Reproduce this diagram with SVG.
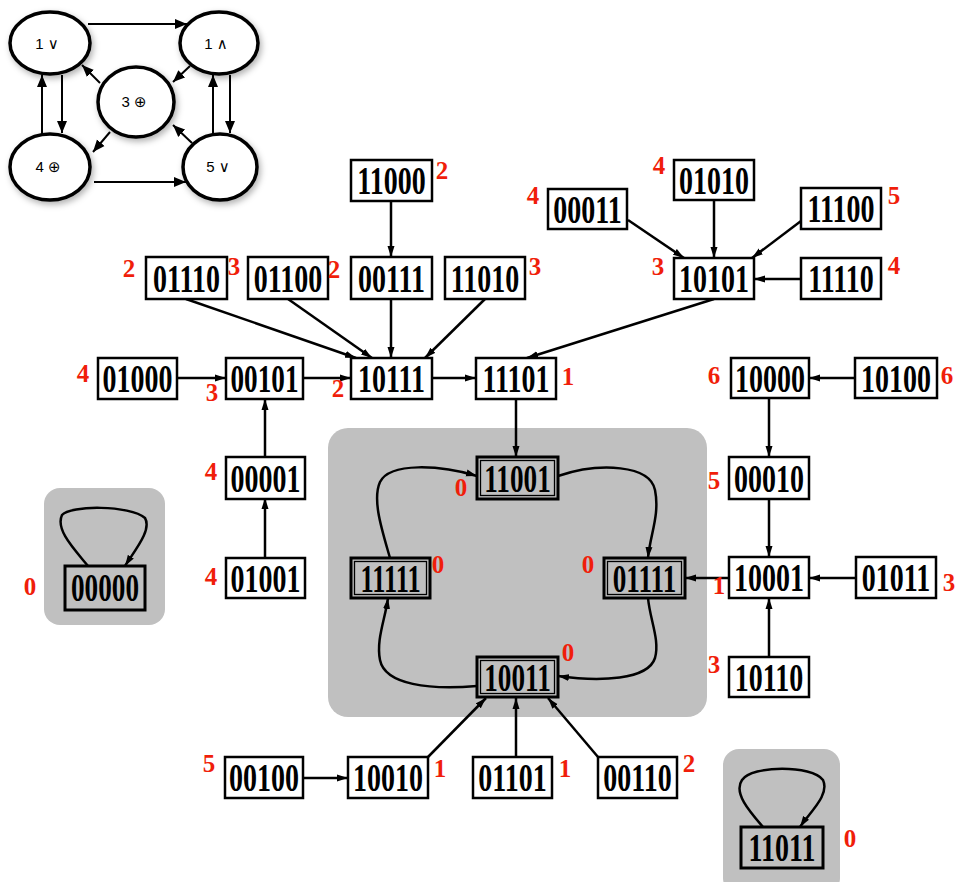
<svg xmlns="http://www.w3.org/2000/svg" width="956" height="882" viewBox="0 0 956 882">
<style>
.bx{fill:#fff;stroke:#000;stroke-width:2.5}
.gb{fill:#c0c0c0;stroke:#000;stroke-width:3}
.gi{fill:none;stroke:#000;stroke-width:1.3}
.bt{font-family:"Liberation Serif","Times New Roman",serif;font-weight:bold;font-size:40px;fill:#000;text-anchor:middle}
.rl{font-family:"Liberation Serif","Times New Roman",serif;font-weight:bold;font-size:25px;fill:#f01e0a;text-anchor:middle}
.el{fill:#fff;stroke:#000;stroke-width:3.5;filter:url(#sh)}
.et{font-family:"Liberation Sans","DejaVu Sans",sans-serif;font-size:15px;fill:#000;text-anchor:middle}
.e{fill:none;stroke:#000;stroke-width:2.5;marker-end:url(#ah)}
.te{fill:none;stroke:#000;stroke-width:2;marker-end:url(#ta)}
.rg{fill:#c0c0c0}
</style>
<defs>
<marker id="ah" markerUnits="userSpaceOnUse" markerWidth="12" markerHeight="8" refX="11" refY="4" orient="auto"><path d="M0,0.5 L11,4 L0,7.5 z" fill="#000"/></marker>
<marker id="ta" markerUnits="userSpaceOnUse" markerWidth="13" markerHeight="11" refX="12" refY="5.5" orient="auto"><path d="M0,0.5 L12,5.5 L0,10.5 z" fill="#000"/></marker>
<filter id="sh" x="-20%" y="-20%" width="150%" height="150%"><feDropShadow dx="2" dy="3" stdDeviation="3" flood-color="#000" flood-opacity="0.3"/></filter>
</defs>
<rect width="956" height="882" fill="#fff"/>

<!-- gray regions -->
<rect class="rg" x="328" y="428" width="379" height="289" rx="20"/>
<rect class="rg" x="44" y="488" width="121" height="137" rx="16"/>
<rect class="rg" x="723" y="749" width="117" height="145" rx="16"/>

<!-- top-left graph -->
<g id="tl-connectors">
<path class="te" d="M88 24 L187 24"/>
<path class="te" d="M62 75 L62 133"/>
<path class="te" d="M42 135 L42 75"/>
<path class="te" d="M100 83 L82 65"/>
<path class="te" d="M190 66 L173 82"/>
<path class="te" d="M110 132 L93 152"/>
<path class="te" d="M192 143 L173 125"/>
<path class="te" d="M230 75 L230 133"/>
<path class="te" d="M213 135 L213 75"/>
<path class="te" d="M94 182 L186 182"/>
</g>
<g id="e1or"><ellipse class="el" cx="50" cy="43" rx="40" ry="31"/><text class="et" x="47" y="49">1 ∨</text></g>
<g id="e1and"><ellipse class="el" cx="219" cy="43" rx="39" ry="31"/><text class="et" x="216" y="49">1 ∧</text></g>
<g id="e3xor"><ellipse class="el" cx="136" cy="102" rx="38" ry="35"/><text class="et" x="134" y="107">3 ⊕</text></g>
<g id="e4xor"><ellipse class="el" cx="50" cy="167" rx="40" ry="33"/><text class="et" x="48" y="172">4 ⊕</text></g>
<g id="e5or"><ellipse class="el" cx="220" cy="167" rx="37" ry="33"/><text class="et" x="218" y="172">5 ∨</text></g>

<!-- connectors -->
<g id="connectors">
<path class="e" d="M391 200 L391 257"/>
<path class="e" d="M186 299 L356 358"/>
<path class="e" d="M288 299 L372 358"/>
<path class="e" d="M391 299 L391 358"/>
<path class="e" d="M485 299 L425 358"/>
<path class="e" d="M178 378 L226 378"/>
<path class="e" d="M303 378 L351 378"/>
<path class="e" d="M431 378 L476 378"/>
<path class="e" d="M265 457 L265 399"/>
<path class="e" d="M265 558 L265 498"/>
<path class="e" d="M714 299 L527 358"/>
<path class="e" d="M628 220 L684 258"/>
<path class="e" d="M714 201 L714 258"/>
<path class="e" d="M801 221 L752 258"/>
<path class="e" d="M801 279 L754 279"/>
<path class="e" d="M516 399 L516 457"/>
<path class="e" d="M855 378 L809 378"/>
<path class="e" d="M769 398 L769 457"/>
<path class="e" d="M769 498 L769 557"/>
<path class="e" d="M856 578 L809 578"/>
<path class="e" d="M769 657 L769 598"/>
<path class="e" d="M729 578 L685 578"/>
<path class="e" d="M303 778 L348 778"/>
<path class="e" d="M428 757 L486 698"/>
<path class="e" d="M516 757 L516 698"/>
<path class="e" d="M598 757 L548 698"/>
<path class="e" d="M390 558 C382 530 372 500 380 482 C390 462 440 465 477 476"/>
<path class="e" d="M558 476 C600 462 650 465 655 490 C660 515 650 535 648 558"/>
<path class="e" d="M648 598 C650 620 660 640 655 658 C648 680 600 682 558 676"/>
<path class="e" d="M477 686 C430 690 385 685 380 660 C376 640 385 620 388 598"/>
<path class="e" d="M88 566 C75 550 55 530 62 515 C70 505 130 505 145 518 C152 530 135 550 125 566"/>
<path class="e" d="M763 827 C750 812 733 793 742 780 C752 765 812 765 823 780 C830 795 810 812 800 827"/>
</g>

<!-- nodes -->
<g id="n11000"><rect class="bx" x="351" y="160" width="81" height="41"/><text class="bt" transform="translate(391.5,194) scale(0.7,1)">11000</text><text class="rl" x="442" y="179">2</text></g>
<g id="n01110"><rect class="bx" x="146" y="257" width="81" height="42"/><text class="bt" transform="translate(186.5,292) scale(0.7,1)">01110</text><text class="rl" x="129" y="277">2</text><text class="rl" x="234" y="275">3</text></g>
<g id="n01100"><rect class="bx" x="248" y="257" width="80" height="42"/><text class="bt" transform="translate(288,292) scale(0.7,1)">01100</text><text class="rl" x="334" y="278">2</text></g>
<g id="n00111"><rect class="bx" x="351" y="257" width="81" height="42"/><text class="bt" transform="translate(391.5,292) scale(0.7,1)">00111</text></g>
<g id="n11010"><rect class="bx" x="445" y="257" width="80" height="42"/><text class="bt" transform="translate(485,292) scale(0.7,1)">11010</text><text class="rl" x="535" y="275">3</text></g>
<g id="n01000"><rect class="bx" x="98" y="358" width="79" height="41"/><text class="bt" transform="translate(137.5,392) scale(0.7,1)">01000</text><text class="rl" x="83" y="382">4</text></g>
<g id="n00101"><rect class="bx" x="226" y="358" width="77" height="41"/><text class="bt" transform="translate(264.5,392) scale(0.68,1)">00101</text><text class="rl" x="212" y="401">3</text></g>
<g id="n10111"><rect class="bx" x="351" y="358" width="81" height="41"/><text class="bt" transform="translate(391.5,392) scale(0.7,1)">10111</text><text class="rl" x="338" y="397">2</text></g>
<g id="n11101"><rect class="bx" x="476" y="358" width="80" height="41"/><text class="bt" transform="translate(516,392) scale(0.7,1)">11101</text><text class="rl" x="568" y="385">1</text></g>
<g id="n00011"><rect class="bx" x="548" y="189" width="79" height="40"/><text class="bt" transform="translate(587.5,223) scale(0.7,1)">00011</text><text class="rl" x="533" y="204">4</text></g>
<g id="n01010"><rect class="bx" x="674" y="160" width="80" height="40"/><text class="bt" transform="translate(714,194) scale(0.7,1)">01010</text><text class="rl" x="659" y="174">4</text></g>
<g id="n11100"><rect class="bx" x="801" y="188" width="80" height="41"/><text class="bt" transform="translate(841,222) scale(0.7,1)">11100</text><text class="rl" x="894" y="204">5</text></g>
<g id="n10101"><rect class="bx" x="674" y="258" width="80" height="41"/><text class="bt" transform="translate(714,292) scale(0.7,1)">10101</text><text class="rl" x="658" y="275">3</text></g>
<g id="n11110"><rect class="bx" x="801" y="258" width="80" height="41"/><text class="bt" transform="translate(841,292) scale(0.7,1)">11110</text><text class="rl" x="894" y="274">4</text></g>
<g id="n10000"><rect class="bx" x="731" y="358" width="78" height="40"/><text class="bt" transform="translate(770,392) scale(0.7,1)">10000</text><text class="rl" x="714" y="384">6</text></g>
<g id="n10100"><rect class="bx" x="855" y="358" width="82" height="40"/><text class="bt" transform="translate(896,392) scale(0.7,1)">10100</text><text class="rl" x="947" y="384">6</text></g>
<g id="n11001"><rect class="gb" x="477" y="457" width="81" height="42"/><rect class="gi" x="480.5" y="460.5" width="74" height="35"/><text class="bt" transform="translate(517.5,492) scale(0.68,1)">11001</text><text class="rl" x="461" y="496">0</text></g>
<g id="n11111"><rect class="gb" x="351" y="558" width="79" height="40"/><rect class="gi" x="354.5" y="561.5" width="72" height="33"/><text class="bt" transform="translate(390.5,592) scale(0.66,1)">11111</text><text class="rl" x="438" y="573">0</text></g>
<g id="n01111"><rect class="gb" x="604" y="558" width="81" height="40"/><rect class="gi" x="607.5" y="561.5" width="74" height="33"/><text class="bt" transform="translate(644.5,592) scale(0.68,1)">01111</text><text class="rl" x="588" y="573">0</text></g>
<g id="n10011"><rect class="gb" x="477" y="657" width="81" height="40"/><rect class="gi" x="480.5" y="660.5" width="74" height="33"/><text class="bt" transform="translate(517.5,691) scale(0.68,1)">10011</text><text class="rl" x="568" y="661">0</text></g>
<g id="n00010"><rect class="bx" x="729" y="457" width="80" height="42"/><text class="bt" transform="translate(769,492) scale(0.7,1)">00010</text><text class="rl" x="714" y="489">5</text></g>
<g id="n10001"><rect class="bx" x="729" y="557" width="80" height="41"/><text class="bt" transform="translate(769,591) scale(0.7,1)">10001</text><text class="rl" x="719" y="594">1</text></g>
<g id="n01011"><rect class="bx" x="856" y="557" width="80" height="41"/><text class="bt" transform="translate(896,591) scale(0.7,1)">01011</text><text class="rl" x="949" y="591">3</text></g>
<g id="n10110"><rect class="bx" x="729" y="657" width="80" height="40"/><text class="bt" transform="translate(769,691) scale(0.7,1)">10110</text><text class="rl" x="714" y="673">3</text></g>
<g id="n00001"><rect class="bx" x="226" y="457" width="79" height="42"/><text class="bt" transform="translate(265.5,492) scale(0.7,1)">00001</text><text class="rl" x="211" y="480">4</text></g>
<g id="n01001"><rect class="bx" x="226" y="558" width="79" height="40"/><text class="bt" transform="translate(265.5,592) scale(0.7,1)">01001</text><text class="rl" x="211" y="585">4</text></g>
<g id="n00000"><rect class="gb" x="65" y="566" width="80" height="44"/><text class="bt" transform="translate(105,601) scale(0.68,1)">00000</text><text class="rl" x="30" y="595">0</text></g>
<g id="n00100"><rect class="bx" x="225" y="757" width="78" height="41"/><text class="bt" transform="translate(264,791) scale(0.7,1)">00100</text><text class="rl" x="209" y="772">5</text></g>
<g id="n10010"><rect class="bx" x="348" y="757" width="80" height="41"/><text class="bt" transform="translate(388,791) scale(0.7,1)">10010</text><text class="rl" x="440" y="777">1</text></g>
<g id="n01101"><rect class="bx" x="473" y="757" width="79" height="41"/><text class="bt" transform="translate(512.5,791) scale(0.7,1)">01101</text><text class="rl" x="565" y="777">1</text></g>
<g id="n00110"><rect class="bx" x="598" y="757" width="79" height="41"/><text class="bt" transform="translate(637.5,791) scale(0.7,1)">00110</text><text class="rl" x="689" y="772">2</text></g>
<g id="n11011"><rect class="gb" x="741" y="827" width="82" height="41"/><text class="bt" transform="translate(782,861) scale(0.7,1)">11011</text><text class="rl" x="850" y="847">0</text></g>
</svg>
